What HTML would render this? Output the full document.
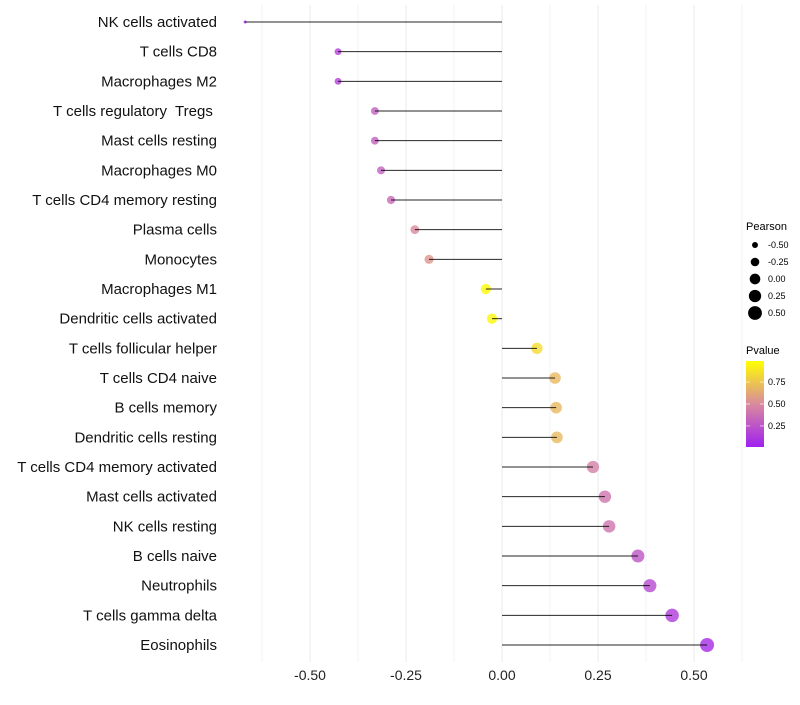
<!DOCTYPE html>
<html><head><meta charset="utf-8"><style>
body{margin:0;background:#fff;font-family:"Liberation Sans",sans-serif}
text{white-space:pre}
</style></head><body>
<svg id="chart" width="800" height="700">
<defs><linearGradient id="pg" x1="0" y1="1" x2="0" y2="0">
<stop offset="0" stop-color="#A020F0"/><stop offset="0.5" stop-color="#D98A9E"/><stop offset="1" stop-color="#FFFF00"/></linearGradient></defs>
<g id="grid"></g><g id="marks"></g><g id="labels"></g>
<g font-size="9">
<text x="746" y="230" font-size="11">Pearson</text>
<g id="sizeleg"></g></g>
<g font-size="9">
<text x="746" y="354" font-size="11">Pvalue</text>
<rect x="746" y="361" width="18" height="86" fill="url(#pg)"/>
<g id="cleg"></g></g>
</svg>
<script>
const cells=["NK cells activated","T cells CD8","Macrophages M2","T cells regulatory  Tregs ","Mast cells resting","Macrophages M0","T cells CD4 memory resting","Plasma cells","Monocytes","Macrophages M1","Dendritic cells activated","T cells follicular helper","T cells CD4 naive","B cells memory","Dendritic cells resting","T cells CD4 memory activated","Mast cells activated","NK cells resting","B cells naive","Neutrophils","T cells gamma delta","Eosinophils"];
const pearson=[-0.669,-0.427,-0.427,-0.331,-0.331,-0.315,-0.289,-0.227,-0.190,-0.042,-0.026,0.091,0.138,0.141,0.143,0.237,0.268,0.279,0.354,0.385,0.443,0.534];
const pvalue=[0.02,0.15,0.15,0.3,0.3,0.3,0.35,0.5,0.55,0.98,0.97,0.85,0.7,0.7,0.7,0.45,0.4,0.4,0.25,0.2,0.12,0.05];
const xTicks=[-0.5,-0.25,0,0.25,0.5];
const xTickLabels=["-0.50","-0.25","0.00","0.25","0.50"];
const sizeLegVals=[-0.5,-0.25,0,0.25,0.5];
const sizeLegLabels=["-0.50","-0.25","0.00","0.25","0.50"];
const colLegVals=[0.25,0.5,0.75];
const colLegLabels=["0.25","0.50","0.75"];

const NS="http://www.w3.org/2000/svg";
const X=v=>502+v*384;
const Y=i=>22+i*(623/21);
const pmin=Math.min(...pearson),pmax=Math.max(...pearson);
const R=v=>Math.sqrt(2.25+(v-pmin)/(pmax-pmin)*46.75);
function lerp(a,b,t){return a.map((x,k)=>Math.round(x+(b[k]-x)*t));}
function col(p){const c0=[160,32,240],c1=[217,138,158],c2=[255,255,0];
 const c=p<0.5?lerp(c0,c1,p/0.5):lerp(c1,c2,(p-0.5)/0.5);return `rgb(${c})`;}
function mk(tag,attrs,parent){const e=document.createElementNS(NS,tag);for(const k in attrs)e.setAttribute(k,attrs[k]);parent.appendChild(e);return e;}
const grid=document.getElementById('grid'),marks=document.getElementById('marks'),labels=document.getElementById('labels');
for(let v=-0.625;v<=0.626;v+=0.125){
 const l=mk('line',{x1:X(v),x2:X(v),y1:5,y2:662,stroke:'#ebebeb','stroke-width':Math.abs((v*8)%2)>0.01?0.6:1.1},grid);
 
 
}
xTicks.forEach((v,i)=>{
 const t=mk('text',{x:X(v),y:680,'text-anchor':'middle','font-size':14,fill:'#222'},labels);
 t.textContent=xTickLabels[i];
 
 
});
cells.forEach((c,i)=>{
 const y=Y(i);
 const t=mk('text',{x:217,y:y+5,'text-anchor':'end','font-size':15,fill:'#111'},labels);
 t.textContent=c;
 
 
 const p=mk('circle',{cx:X(pearson[i]),cy:y,r:R(pearson[i]),fill:col(pvalue[i]),'fill-opacity':0.8},marks);
 
 
 const l=mk('line',{x1:X(0),x2:X(pearson[i]),y1:y,y2:y,stroke:'#000','stroke-width':1,'stroke-opacity':0.85},marks);
 
 
});
const sl=document.getElementById('sizeleg');
sizeLegVals.forEach((v,i)=>{
 const y=245+i*17;
 const c=mk('circle',{cx:755,cy:y,r:Math.min(7.2,R(v)),fill:'#000'},sl);
 
 
 const t=mk('text',{x:768,y:y+3},sl);t.textContent=sizeLegLabels[i];
 
 
});
const cl=document.getElementById('cleg');
colLegVals.forEach((v,i)=>{
 const y=447-(v-0.01)/0.98*86;
 const t=mk('text',{x:768,y:y+3},cl);t.textContent=colLegLabels[i];
 
 
 mk('line',{x1:746,x2:750,y1:y,y2:y,stroke:'#fff','stroke-opacity':0.6},cl);
 mk('line',{x1:760,x2:764,y1:y,y2:y,stroke:'#fff','stroke-opacity':0.6},cl);
});
</script>
</body></html>
